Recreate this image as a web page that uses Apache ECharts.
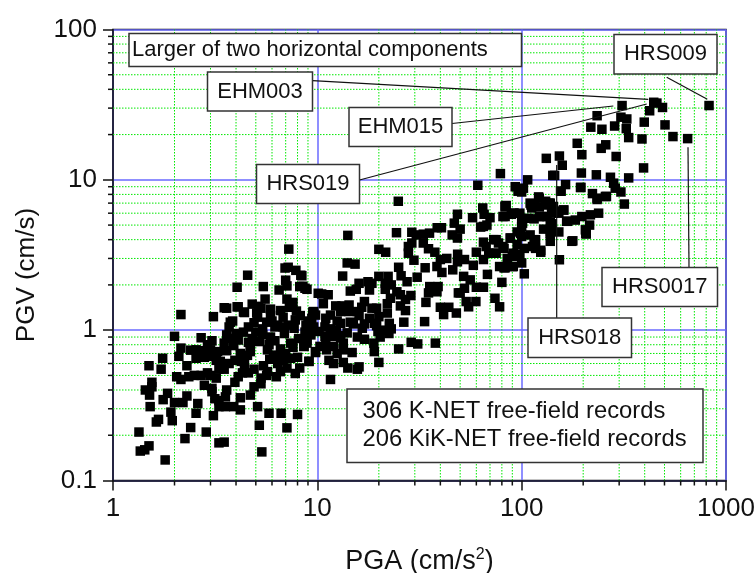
<!DOCTYPE html>
<html><head><meta charset="utf-8">
<script src="https://cdn.jsdelivr.net/npm/echarts@6/dist/echarts.min.js"></script>
<style>html,body{margin:0;padding:0;background:#fff}#c{width:756px;height:573px}</style>
</head><body><div id="c"></div>
<script>
const minorX=[2,3,4,5,6,7,8,9,20,30,40,50,60,70,80,90,200,300,400,500,600,700,800,900];
const minorY=[0.2,0.3,0.4,0.5,0.6,0.7,0.8,0.9,2,3,4,5,6,7,8,9,20,30,40,50,60,70,80,90];
const lowSparse=[[2.15,1.27],[3.1,1.23],[3.6,1.4],[4.1,1.43],[4.4,1.31],[2,.91],[2.7,.89],[3.05,.85],[2.15,.76],[2.1,.67],[1.75,.65],[1.5,.58],[1.72,.55],[2.3,.58],[2.05,.49],[2.15,.47],[1.55,.45],[1.55,.42],[1.44,.4],[1.51,.37],[1.85,.38],[1.76,.345],[1.52,.31],[2.3,.365],[2,.33],[2.2,.33],[2.6,.325],[1.92,.285],[2.55,.28],[1.67,.255],[1.63,.245],[1.95,.25],[3.1,.27],[2.4,.225],[1.34,.21],[2.86,.21],[2.25,.19],[1.5,.17],[1.43,.16],[1.36,.157],[1.8,.137],[3.3,.178],[3.5,.18],[5.35,.155],[5.2,.233],[7.1,.224],[5.1,.31],[5.8,.28],[6.65,.28],[8,.275],[3.55,.31],[3.9,.31],[4.2,.295],[4.2,.355],[4.7,.37]];
const lowDense=[[2.4,.736],[2.55,.74],[2.8,.73],[3,.74],[3.25,.72],[3.6,.73],[2.55,.65],[2.8,.66],[3,.67],[3.2,.63],[3.95,.63],[4.25,.62],[4.55,.68],[3.9,.79],[4.2,.7],[4.7,.72],[4.7,.78],[3.6,.93],[3.75,.88],[4,.95],[4.35,.97],[4.6,.83],[5,.97],[5.4,.93],[6.2,.85],[7.4,.82],[8.6,.78],[8.9,.86],[2.9,.52],[3.3,.55],[3.5,.55],[3,.5],[3.2,.48],[2.7,.5],[2.5,.5],[2.35,.49],[4.1,.49],[3.95,.45],[4.3,.52],[4.6,.52],[5.3,.48],[5.65,.5],[6.3,.49],[2.8,.43],[3.05,.41],[5.3,.44],[4.9,.42],[3.05,.39],[3.6,.4],[3.55,.36],[3.15,.35],[3.3,.34],[3.3,.31],[5.45,.58],[5.7,.53],[6.6,.53],[7.1,.56],[7.8,.515],[9.1,.62],[8,.66],[7.4,.65],[6.8,.63],[6.1,.68],[5.7,.74],[5.85,.64],[6.3,.68],[7.6,.77],[9.8,.71],[8.6,.78],[3.35,.62],[3.5,.82],[5.2,.84],[5.8,.8],[6.6,.75],[7,.7]];
const lowFill=[[2.9,.8],[4.1,.86],[4.8,.88],[5.9,.9],[6.9,.95],[8.1,.88],[9.3,.93],[3.7,.6],[4.4,.59],[4.9,.55],[6.4,.6],[8.2,.56]];
const lowUpper=[[7.25,3.46],[6.95,2.59],[7.2,2.62],[7.85,2.5],[8.3,2.32],[4.56,2.32],[7,2.15],[7.1,1.97],[4.05,1.93],[5.44,1.95],[6.5,1.85],[8.5,1.96],[8.9,1.87],[7.1,1.61],[5.55,1.61],[4.8,1.49],[5.15,1.44],[5.3,1.4],[5.9,1.38],[4.05,1.43],[4.35,1.32],[3.5,1.41],[7.6,1.53],[7.9,1.34],[9.5,1.32],[10.1,1.76],[5.1,1.22],[5.65,1.13],[3.75,1.13],[6.8,1.22],[7.8,1.17],[7.7,1.03],[6.8,1.05],[6.2,1.05],[8.8,1.08],[9.6,1.05],[3.7,1.05],[3.85,1.15],[5.05,1.3],[6,1.15],[6.4,1.08],[7.2,1.08],[8.25,1.25],[9,1.15],[9.6,1.29],[9.4,1.2],[5.4,1.02],[4.6,1.05],[4.9,1.12],[6.6,1.35],[7.3,1.42],[5.9,1.25]];
const midLow=[[14.1,4.27],[24.9,7.2],[24.4,4.45],[20,3.45],[21.6,3.3],[14,2.8],[15.3,2.75],[13.3,2.29],[25,2.62],[25.7,2.3],[27.5,2.1],[21.5,2.05],[20,2.28],[22.2,2.28],[17.7,2.1],[18.5,2.05],[15.5,1.87],[14.5,1.82],[21.5,1.87],[24.5,1.8],[22.8,1.63],[25.5,1.72],[28.7,1.7],[25.5,1.45],[27,1.35],[26.5,1.13],[33.5,1.14],[22.5,1.11],[16.6,1.03],[14.5,1.13],[13,1.11],[10.9,1.05],[25,.75],[28.8,.83],[31,.81],[37.8,.82],[19,.72],[14.8,.71],[18.9,.82],[17,.87],[22.4,.95],[20.3,.9],[19.5,1.07],[20,1.23],[19.5,1.4],[18.5,1.4],[16.5,1.42],[15.7,1.33],[14.3,1.47],[13.2,1.45],[12.3,1.45],[10.7,1.5],[11.3,1.72],[10.5,1.74],[9.6,1.33],[9.8,1.26],[11.6,1.26],[13,1.33],[14.3,1.33],[19,1.11],[21,1],[11.8,.91],[12.4,1],[13.4,.82],[12,.78],[11.1,.74],[13.4,.74],[9.8,.72],[9.1,.62],[11.4,.63],[12,.6],[13.4,.61],[15.7,.55],[8.7,.97],[9.2,1.09],[8.9,.82],[10.9,.91],[11.6,1.02],[13,.89],[10.3,.78],[14,.96],[12.5,.7],[8.2,1.95],[8.7,1.9],[8.4,2.3],[11.6,.47],[14.1,.56],[16,.57],[20,.61],[15.7,.9],[11,.84],[12.7,.92],[10.2,.98],[19.8,.98],[18,1.2],[16,1.25]];
const midFill=[[11,1.2],[12.5,1.15],[15,1.1],[17,1.1],[23,1.02],[22,1.3],[17,1.55],[22,1.5],[23,2],[18,1.85],[16,2.05],[27,1.6]];
const midHigh=[[61,9.2],[93,9],[29,4.48],[30.5,4.3],[33,4.35],[35.4,4.42],[38.6,4.8],[40.5,4.8],[48.5,5.9],[46.8,5.15],[50,4.7],[45.7,4.3],[48.5,4.1],[57.5,5.6],[64.5,6.5],[65.5,5.9],[70,5.6],[65,4.9],[67.6,5],[63,4.85],[83,6.7],[81,5.7],[89,5.9],[98,6],[96,8.4],[29,3.8],[27.9,3.6],[27.9,3.25],[29.7,2.92],[33,3.8],[35,3.48],[37.6,3.3],[33.7,2.6],[30.8,2.25],[35.5,1.95],[39,1.95],[35,1.77],[38.5,1.8],[34,1.53],[40,1.42],[44,1.42],[41.5,1.27],[47.9,1.3],[38.5,2.65],[40.7,2.42],[40,2.95],[43,3],[48.6,3.2],[46,2.52],[52.5,2.95],[48.5,2.85],[52,2.28],[56,2.16],[52.5,1.9],[50,1.77],[53.5,1.55],[55,1.43],[59.7,1.55],[74,1.63],[78,1.43],[80,2.08],[60,1.93],[65,1.93],[49,1.77],[60,3.3],[65,2.95],[69,3.25],[65,3.85],[73,4],[77,3.8],[81,3.6],[88,4.1],[91,3.25],[75,3.25],[78,2.65],[83,2.6],[91,2.65],[98,3.2],[78.7,11],[84,6.75],[83,5.7],[92,6],[101,5.15],[99,4.4],[88,4.1],[75,4],[73,3.25],[82,3.5],[90,3.1],[103,3.5],[90,2.65],[82,2.6],[100,2.8],[103,2.37],[83,6.6],[91,6]];
const bandFill=[[58,2.7],[68,2.35],[67,3.6],[85,3],[95,3.7],[95,4.5],[110,4.3],[128,4.7]];
const highPoints=[[132,13.9],[153,14.4],[158,12.5],[145,10.7],[196,11.1],[232,10.8],[272,10.4],[334,10.3],[107,10],[102,8.8],[100,8.3],[164,9.3],[156,8.4],[194,8.9],[282,9.5],[287,8.8],[306,8.3],[222,8.1],[234,7.4],[260,7.75],[318,6.9],[110,7],[121,7.7],[112,6.5],[131,7.2],[138,7],[140,6.5],[160,6.3],[149,6.2],[100,5.4],[108,5.55],[125,5.7],[138,5.2],[166,5.3],[183,5.4],[197,5.7],[217,5.85],[238,6],[215,5],[206,4.4],[138,4.4],[152,4.5],[100,4.9],[100,4.2],[117,4],[176,3.9],[153,2.94],[178,3.93],[207,4.36],[205,4.65],[138,4.53],[138,3.9],[124,3.4],[117,3.5],[141,5.1],[143,6.65],[134,6.8],[122,7.55],[115,6.8],[122,6.6],[122,5.7],[115,5.5],[133,5.7],[143,6],[155,8.4],[195,8.9],[142,10.7],[115,3.9],[124,3.3],[113,3.6],[111,6.8],[136,7],[161,6.3],[152,6],[168,5.3],[234,7.55],[257,7.75]];
const topPoints=[[826,31.2],[649,18.8],[550,19.4],[503,23.2],[489,30.3],[459,32.4],[443,32.8],[423,28.8],[398,24.2],[388,18.7],[334,19.1],[327,25.4],[310,31.2],[306,26.1],[325,21.9],[285,22.8],[234,26.7],[218,22.4],[247,21.7],[187,17.5],[258,17.1],[245,16.2],[197,14.7],[290,14.3],[395,12]];
const allPoints=[...lowSparse,...lowDense,...lowFill,...lowUpper,...midLow,...midFill,...midHigh,...bandFill,...highPoints,...topPoints];
const chart=echarts.init(document.getElementById('c'),null,{renderer:'canvas'});
const ink='#111';
const labelFont='22px "Liberation Sans"',noteFont='23.8px "Liberation Sans"';
function box(l,t,r,b,txt,tx){return [{type:'rect',z:50,shape:{x:l,y:t,width:r-l,height:b-t},style:{fill:'#fff',stroke:'#333',lineWidth:1.5}},
 {type:'text',z:51,style:{x:tx===undefined?(l+r)/2:tx,y:(t+b)/2,text:txt,font:labelFont,fill:'#111',align:tx===undefined?'center':'left',verticalAlign:'middle'}}];}
function ln(a,b,c,d){return {type:'line',z:49,shape:{x1:a,y1:b,x2:c,y2:d},style:{stroke:'#111',lineWidth:1.2}};}
const graphics=[
 ...box(129,33.5,521.5,66.5,'Larger of two horizontal components',132),
 ...box(207.5,72,312.5,111,'EHM003'),
 ...box(349,107.5,452,146.5,'EHM015'),
 ...box(256.5,164.5,359.5,203.5,'HRS019'),
 ...box(614,34.5,717,74,'HRS009'),
 ...box(602,267.5,717.5,306.5,'HRS0017'),
 ...box(528,318,631.5,357.5,'HRS018'),
 {type:'rect',z:50,shape:{x:347,y:389,width:356,height:73.5},style:{fill:'#fff',stroke:'#333',lineWidth:1.5}},
 {type:'text',z:51,style:{x:362.5,y:411,text:'306 K-NET free-field records',font:noteFont,fill:'#111',verticalAlign:'middle'}},
 {type:'text',z:51,style:{x:362.5,y:439.5,text:'206 KiK-NET free-field records',font:noteFont,fill:'#111',verticalAlign:'middle'}},
 ln(312.5,80.7,648.3,99.3),ln(452,123.5,613.3,106),ln(359.5,180,646.7,104),ln(666.7,77.3,707.3,99.3),ln(688,147.3,689,267),ln(556.7,165,556.7,318)
];
chart.setOption({
 animation:false,backgroundColor:'#fff',
 textStyle:{fontFamily:'"Liberation Sans"'},
 grid:{left:113,right:30,top:29.5,bottom:92.5,show:true,borderColor:ink,borderWidth:1.5,backgroundColor:'transparent',outerBoundsMode:'none'},
 xAxis:{type:'log',logBase:10,min:1,max:1000,
  name:'{a|PGA (cm/s}{b|2}{a|)}',nameLocation:'middle',nameGap:66,
  nameTextStyle:{rich:{a:{fontSize:27,fontFamily:'"Liberation Sans"',color:ink},b:{fontSize:16,fontFamily:'"Liberation Sans"',color:ink,padding:[0,0,15,0]}}},
  axisLine:{show:true,onZero:false,lineStyle:{color:ink,width:1.5}},
  axisTick:{show:true,length:10,lineStyle:{color:ink,width:1.5}},minorTick:{show:false},
  axisLabel:{fontSize:26,color:ink,margin:15,formatter:v=>String(+v.toPrecision(3))},
  splitLine:{show:true,lineStyle:{color:'#6a6aff',width:1.5}}},
 yAxis:{type:'log',logBase:10,min:0.1,max:100,
  name:'PGV (cm/s)',nameLocation:'middle',nameGap:73,
  nameTextStyle:{fontSize:26,color:ink,padding:[0,40,0,0]},
  axisLine:{show:true,onZero:false,lineStyle:{color:ink,width:1.5}},
  axisTick:{show:true,length:10,lineStyle:{color:ink,width:1.5}},minorTick:{show:false},
  axisLabel:{fontSize:26,color:ink,margin:16,formatter:v=>String(+v.toPrecision(3))},
  splitLine:{show:true,lineStyle:{color:'#6a6aff',width:1.5}}},
 series:[
  {type:'custom',coordinateSystem:'cartesian2d',clip:false,z:1,silent:true,data:minorX.map(v=>[v,1]),
   renderItem:(p,api)=>{const a=api.coord([api.value(0),0.1]),b=api.coord([api.value(0),100]);
    return {type:'group',children:[
     {type:'line',shape:{x1:a[0],y1:a[1],x2:b[0],y2:b[1]},style:{stroke:'#00e800',lineWidth:1,lineDash:[1.5,1.5]}},
     {type:'line',shape:{x1:a[0],y1:a[1],x2:a[0],y2:a[1]+5},style:{stroke:ink,lineWidth:1.5}}]};}},
  {type:'custom',coordinateSystem:'cartesian2d',clip:false,z:1,silent:true,data:minorY.map(v=>[1,v]),
   renderItem:(p,api)=>{const a=api.coord([1,api.value(1)]),b=api.coord([1000,api.value(1)]);
    return {type:'group',children:[
     {type:'line',shape:{x1:a[0],y1:a[1],x2:b[0],y2:b[1]},style:{stroke:'#00e800',lineWidth:1,lineDash:[1.5,1.5]}},
     {type:'line',shape:{x1:a[0]-5,y1:a[1],x2:a[0],y2:a[1]},style:{stroke:ink,lineWidth:1.5}}]};}},
  {type:'scatter',name:'Records',z:5,symbol:'rect',symbolSize:9.5,itemStyle:{color:'#000',opacity:1},data:allPoints,clip:false}
 ],
 graphic:graphics
});
</script></body></html>
